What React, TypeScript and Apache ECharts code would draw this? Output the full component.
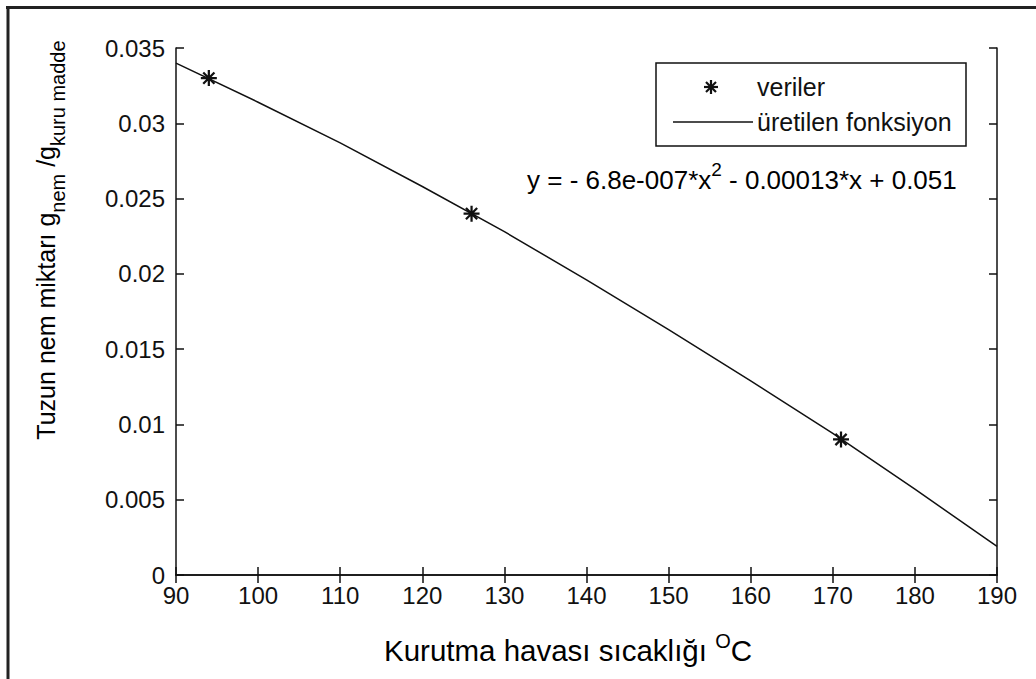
import React, { useEffect, useRef } from "react";
import * as echarts from "echarts";

// Axis ticks
const xTicks = [90, 100, 110, 120, 130, 140, 150, 160, 170, 180, 190];
const yTickLabels = ["0", "0.005", "0.01", "0.015", "0.02", "0.025", "0.03", "0.035"];

// Measured data ("veriler")
const dataX = [94, 126, 171];
const dataY = [0.033, 0.024, 0.009];

// Fitted curve ("üretilen fonksiyon")
const fitX = [90, 100, 110, 120, 130, 140, 150, 160, 170, 180, 190];
const fitY = [0.034, 0.0314, 0.0287, 0.0258, 0.0228, 0.0196, 0.0163, 0.0129, 0.0094, 0.0057, 0.0019];

const FONT = "'Liberation Sans', Arial, Helvetica, sans-serif";
const INK = "#111";

const STAR =
  "path://M8.6 0h2.8v20h-2.8Z M0 8.6h20v2.8h-20Z M2 4L4 2L18 16L16 18Z M16 2L18 4L4 18L2 16Z";

export default function App() {
  const ref = useRef<HTMLDivElement | null>(null);

  useEffect(() => {
    if (!ref.current) return;
    const chart = echarts.init(ref.current, undefined, { renderer: "svg" });

    const axisCommon = {
      type: "value" as const,
      axisLine: { show: true, lineStyle: { color: INK, width: 1.5 } },
      axisTick: { show: true, inside: true, length: 8, lineStyle: { color: INK, width: 1.5 } },
      splitLine: { show: false },
    };

    const starLine = (x1: number, y1: number, x2: number, y2: number) => ({
      type: "line",
      z: 12,
      shape: { x1: 711 + x1, y1: 87 + y1, x2: 711 + x2, y2: 87 + y2 },
      style: { stroke: INK, lineWidth: 2.2 },
    });

    const option: any = {
      animation: false,
      backgroundColor: "#ffffff",
      grid: { left: 176, top: 48, right: 39, bottom: 104, containLabel: false },
      xAxis: [
        {
          ...axisCommon,
          position: "bottom",
          min: xTicks[0],
          max: xTicks[xTicks.length - 1],
          interval: 10,
          axisLabel: {
            show: true,
            color: INK,
            fontFamily: FONT,
            fontSize: 24,
            margin: 8,
            showMinLabel: true,
            showMaxLabel: true,
          },
        },
        {
          ...axisCommon,
          position: "top",
          min: xTicks[0],
          max: xTicks[xTicks.length - 1],
          interval: 10,
          axisLabel: { show: false },
        },
      ],
      yAxis: [
        {
          ...axisCommon,
          position: "left",
          min: 0,
          max: 0.035,
          interval: 0.005,
          axisLabel: {
            show: true,
            color: INK,
            fontFamily: FONT,
            fontSize: 24,
            margin: 11,
            showMinLabel: true,
            showMaxLabel: true,
            formatter: (_v: number, i: number) => yTickLabels[i] ?? "",
          },
        },
        {
          ...axisCommon,
          position: "right",
          min: 0,
          max: 0.035,
          interval: 0.005,
          axisLabel: { show: false },
        },
      ],
      series: [
        {
          name: "üretilen fonksiyon",
          type: "line",
          data: fitX.map((x, i) => [x, fitY[i]]),
          showSymbol: false,
          symbol: "none",
          lineStyle: { color: INK, width: 1.5 },
          z: 2,
        },
        {
          name: "veriler",
          type: "scatter",
          data: dataX.map((x, i) => [x, dataY[i]]),
          symbol: STAR,
          symbolSize: 16,
          itemStyle: { color: INK, opacity: 1 },
          z: 3,
        },
      ],
      graphic: [
        // outer frame (top and left edges)
        { type: "line", shape: { x1: 6, y1: 7.5, x2: 1036, y2: 7.5 }, style: { stroke: "#222", lineWidth: 3 } },
        { type: "line", shape: { x1: 8, y1: 6, x2: 8, y2: 679 }, style: { stroke: "#222", lineWidth: 3 } },
        // legend box
        {
          type: "rect",
          z: 10,
          shape: { x: 656, y: 63, width: 310, height: 83 },
          style: { fill: "#fff", stroke: INK, lineWidth: 1.5 },
        },
        starLine(0, -7, 0, 7),
        starLine(-7, 0, 7, 0),
        starLine(-5, -5, 5, 5),
        starLine(5, -5, -5, 5),
        {
          type: "text",
          x: 757,
          y: 87,
          z: 12,
          style: { text: "veriler", fill: INK, font: `25px ${FONT}`, align: "left", verticalAlign: "middle" },
        },
        {
          type: "line",
          z: 12,
          shape: { x1: 673, y1: 122, x2: 753, y2: 122 },
          style: { stroke: INK, lineWidth: 1.5 },
        },
        {
          type: "text",
          x: 757,
          y: 122,
          z: 12,
          style: {
            text: "üretilen fonksiyon",
            fill: INK,
            font: `25px ${FONT}`,
            align: "left",
            verticalAlign: "middle",
          },
        },
        // equation
        {
          type: "text",
          x: 527,
          y: 180,
          z: 12,
          style: {
            text: "{m|y = - 6.8e-007*x}{s|2}{m| - 0.00013*x + 0.051}",
            align: "left",
            verticalAlign: "middle",
            rich: {
              m: { fontFamily: FONT, fontSize: 26, color: INK, lineHeight: 40 },
              s: { fontFamily: FONT, fontSize: 19, color: INK, lineHeight: 14, verticalAlign: "top" },
            },
          },
        },
        // x axis title
        {
          type: "text",
          x: 568,
          y: 650,
          style: {
            text: "{m|Kurutma havası sıcaklığı }{s|O}{m|C}",
            align: "center",
            verticalAlign: "middle",
            rich: {
              m: { fontFamily: FONT, fontSize: 29.5, color: INK, lineHeight: 38 },
              s: { fontFamily: FONT, fontSize: 20, color: INK, lineHeight: 12, verticalAlign: "top" },
            },
          },
        },
        // y axis title (rotated)
        {
          type: "text",
          x: 46,
          y: 240,
          rotation: Math.PI / 2,
          style: {
            text: "{m|Tuzun nem miktarı g}{s|nem}{m| /g}{s|kuru madde}",
            align: "center",
            verticalAlign: "middle",
            rich: {
              m: { fontFamily: FONT, fontSize: 25, color: INK, lineHeight: 44 },
              s: { fontFamily: FONT, fontSize: 20, color: INK, lineHeight: 14, verticalAlign: "bottom" },
            },
          },
        },
      ],
    };

    chart.setOption(option);
    return () => chart.dispose();
  }, []);

  return (
    <div
      ref={ref}
      style={{ position: "absolute", left: 0, top: 0, width: 1036, height: 679, background: "#fff" }}
    />
  );
}
